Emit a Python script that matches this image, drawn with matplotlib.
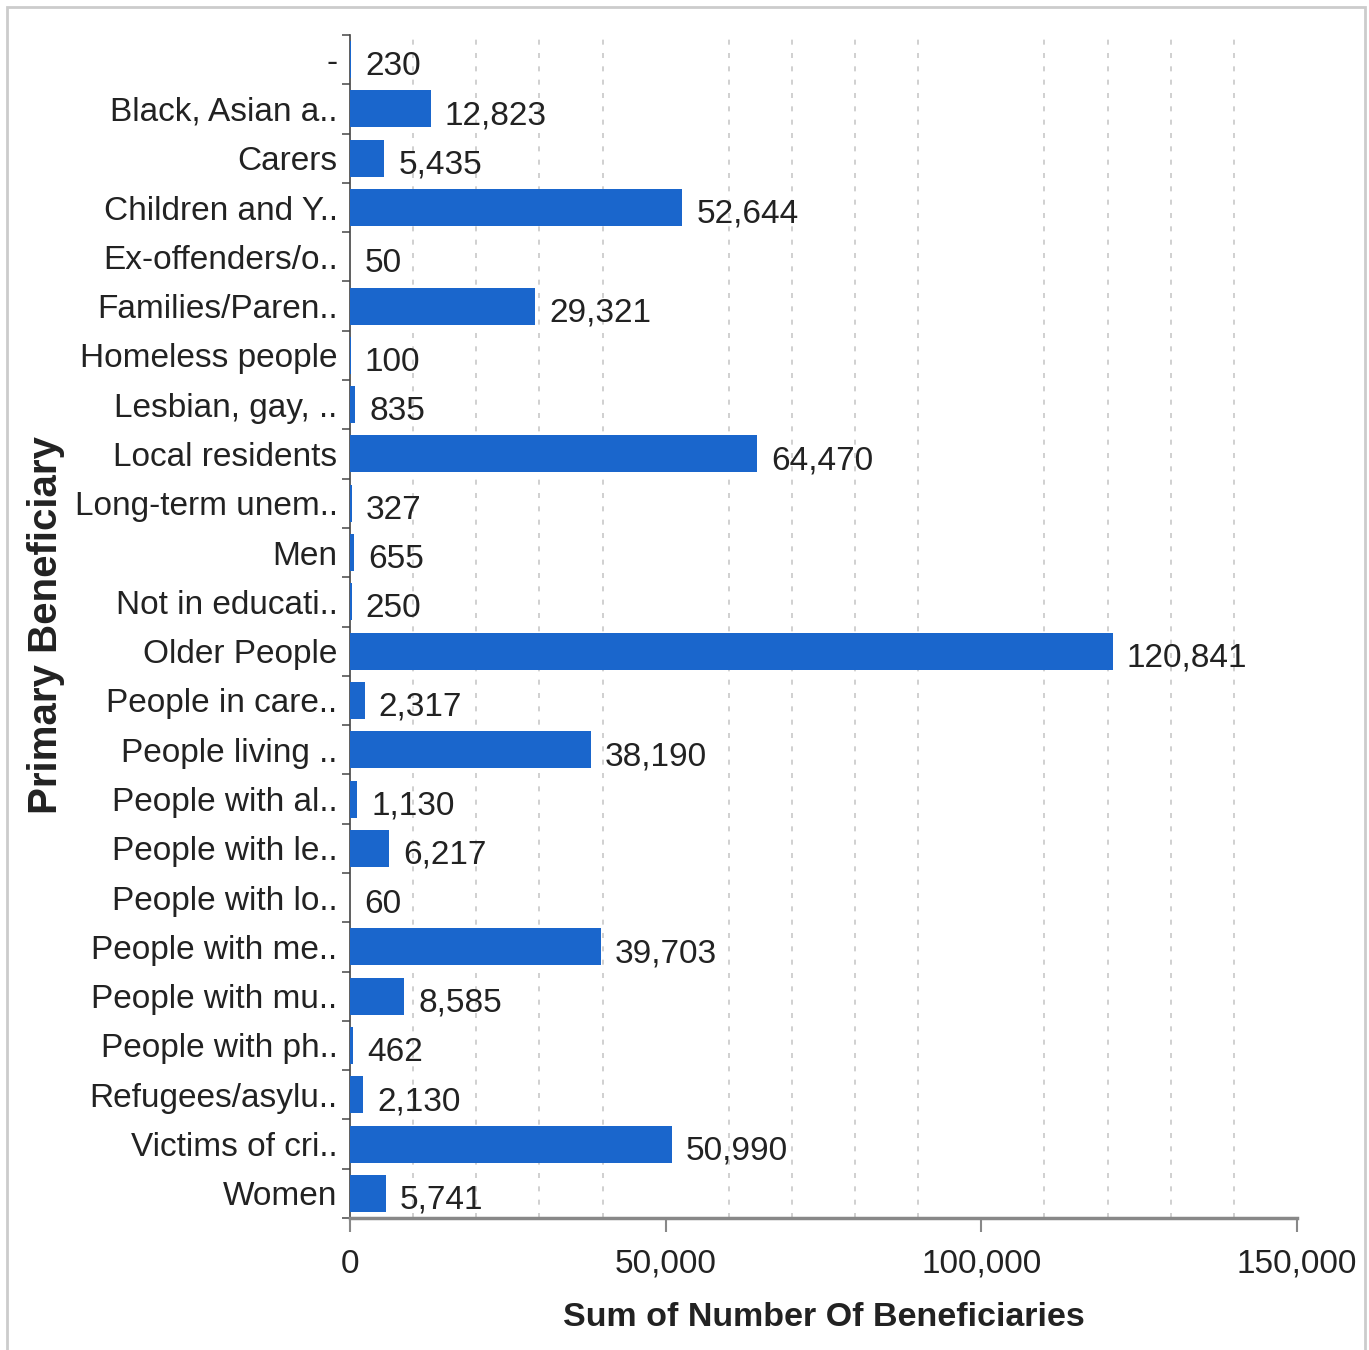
import matplotlib
matplotlib.use("Agg")
import matplotlib.pyplot as plt
from matplotlib.patches import Rectangle
from matplotlib.ticker import FixedLocator, FuncFormatter

categories = ["-", "Black, Asian a..", "Carers", "Children and Y..", "Ex-offenders/o..",
              "Families/Paren..", "Homeless people", "Lesbian, gay, ..", "Local residents",
              "Long-term unem..", "Men", "Not in educati..", "Older People", "People in care..",
              "People living ..", "People with al..", "People with le..", "People with lo..",
              "People with me..", "People with mu..", "People with ph..", "Refugees/asylu..",
              "Victims of cri..", "Women"]
values = [230, 12823, 5435, 52644, 50, 29321, 100, 835, 64470, 327, 655, 250, 120841,
          2317, 38190, 1130, 6217, 60, 39703, 8585, 462, 2130, 50990, 5741]
x_ticks = [0, 50000, 100000, 150000]
grid_x = list(range(10000, 150000, 10000))

plt.rcParams['font.family'] = ["Liberation Sans", "DejaVu Sans"]
text_color = "#222222"
bar_color = "#1a66cc"
fs = 24

fig = plt.figure(figsize=(13.69, 13.5), dpi=100)
ax = fig.add_axes([350/1369, 1 - 1218/1350, (1297-350)/1369, (1218-35)/1350])

ypos = list(range(len(categories)))
ax.barh(ypos, values, height=0.75, color=bar_color, zorder=3)
for y, v in zip(ypos, values):
    ax.annotate(f"{v:,}", xy=(v, y), xytext=(10, -5), textcoords="offset points",
                ha="left", va="center", fontsize=fs, color=text_color, zorder=4)

ax.set_xlim(0, 150000)
ax.set_ylim(len(categories) - 0.5, -0.5)
ax.set_yticks(ypos)
ax.set_yticklabels(categories)
ax.yaxis.set_minor_locator(FixedLocator([i - 0.5 for i in range(len(categories) + 1)]))
ax.tick_params(axis="y", which="major", length=0, pad=9, labelsize=fs, labelcolor=text_color)
ax.tick_params(axis="y", which="minor", length=6, width=1.2, color="#555555")
for lab in ax.get_yticklabels():
    lab.set_y(lab.get_position()[1])

ax.set_xticks(x_ticks)
ax.xaxis.set_major_formatter(FuncFormatter(lambda v, p: f"{int(v):,}"))
ax.xaxis.set_minor_locator(FixedLocator(grid_x))
ax.tick_params(axis="x", which="major", length=10, width=1.5, color="#888888", pad=12,
               labelsize=fs, labelcolor=text_color)
ax.tick_params(axis="x", which="minor", length=0)
ax.grid(axis="x", which="minor", linestyle=(0, (3, 5)), color="#c8c8c8", linewidth=1.2, zorder=0)
ax.grid(axis="x", which="major", visible=False)
ax.grid(axis="y", visible=False)

for s in ["top", "right"]:
    ax.spines[s].set_visible(False)
ax.spines["left"].set_color("#444444")
ax.spines["left"].set_linewidth(1.2)
ax.spines["bottom"].set_color("#888888")
ax.spines["bottom"].set_linewidth(2.5)

ax.set_xlabel("Sum of Number Of Beneficiaries", fontsize=24.5, fontweight="bold",
              color=text_color, labelpad=16)
fig.text(46/1369, 1 - 625/1350, "Primary Beneficiary", rotation=90, ha="center", va="center",
         fontsize=29, fontweight="bold", color=text_color)

fig.patches.append(Rectangle((7/1369, -0.01), (1365-7)/1369, 1 - 7/1350 + 0.01,
                             transform=fig.transFigure, fill=False, edgecolor="#cccccc",
                             linewidth=2))

fig.savefig("out.png", dpi=100)
